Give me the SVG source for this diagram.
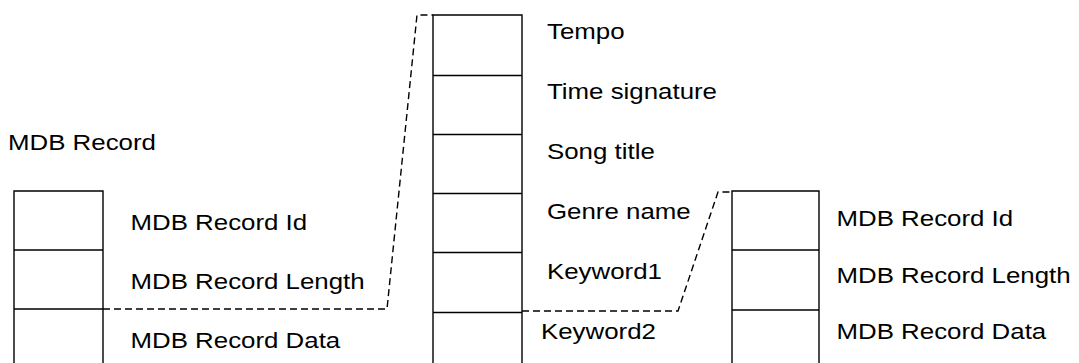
<svg xmlns="http://www.w3.org/2000/svg" width="1079" height="363" viewBox="0 0 1079 363">
<style>
.box{fill:none;stroke:#000;stroke-width:1.4}
.dash{fill:none;stroke:#000;stroke-width:1.4;stroke-dasharray:7,4}
text{font-family:"Liberation Sans",Arial,sans-serif;font-size:22px;fill:#000}
</style>
<rect width="1079" height="363" fill="#fff"/>
<g id="title">
<text transform="translate(8,150) scale(1.175,1)">MDB Record</text>
</g>
<g id="left-record">
<path class="box" d="M14,363 V191 H103 V363 M14,250 H103 M14,309 H103"/>
<text transform="translate(130.5,230) scale(1.175,1)">MDB Record Id</text>
<text transform="translate(130.5,289) scale(1.175,1)">MDB Record Length</text>
<text transform="translate(130.5,348) scale(1.175,1)">MDB Record Data</text>
</g>
<g id="data-fields">
<path class="box" d="M433,363 V15 H522 V363 M433,75.5 H522 M433,134.5 H522 M433,193.5 H522 M433,252.5 H522 M433,312.5 H522"/>
<text transform="translate(547,39) scale(1.175,1)">Tempo</text>
<text transform="translate(547,99) scale(1.175,1)">Time signature</text>
<text transform="translate(547,159) scale(1.175,1)">Song title</text>
<text transform="translate(547,219) scale(1.175,1)">Genre name</text>
<text transform="translate(547,279) scale(1.175,1)">Keyword1</text>
<text transform="translate(541,339) scale(1.175,1)">Keyword2</text>
</g>
<g id="right-record">
<path class="box" d="M732,363 V191 H819 V363 M732,250 H819 M732,310 H819"/>
<text transform="translate(836.5,226) scale(1.175,1)">MDB Record Id</text>
<text transform="translate(836.5,283) scale(1.175,1)">MDB Record Length</text>
<text transform="translate(836.5,339) scale(1.175,1)">MDB Record Data</text>
</g>
<g id="connectors">
<path class="dash" d="M103,309 H387 L417,15 H433"/>
<path class="dash" d="M522,311 H678 L718,192 H732"/>
</g>
</svg>
